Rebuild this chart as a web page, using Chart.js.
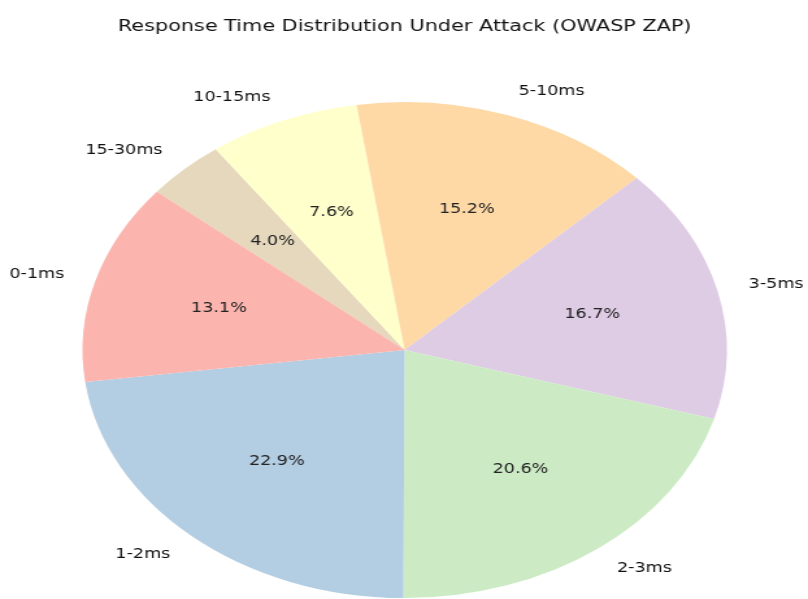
<!DOCTYPE html>
<html>
<head>
<meta charset="utf-8">
<title>Response Time Distribution Under Attack (OWASP ZAP)</title>
<script src="https://cdn.jsdelivr.net/npm/chart.js@4.4.1/dist/chart.umd.min.js"></script>
<style>
  html, body { margin: 0; padding: 0; background: #fff; overflow: hidden; }
  /* the figure is drawn narrow and stretched sideways to give the oval pie */
  #wrap { width: 622px; height: 599px; transform: scaleX(1.299); transform-origin: 0 0; }
</style>
</head>
<body>
<div id="wrap"><canvas id="pieCanvas" width="622" height="599"></canvas></div>
<script>
const categories = ['0-1ms', '1-2ms', '2-3ms', '3-5ms', '5-10ms', '10-15ms', '15-30ms'];
const shares = [13.1, 22.9, 20.6, 16.7, 15.2, 7.6, 4.0];
const colors = ['#fbb4ae', '#b3cde3', '#ccebc5', '#decbe4', '#fed9a6', '#ffffcc', '#e5d8bd'];

// Chart.js goes clockwise, the slices here run counter-clockwise, so feed them reversed
const labelsCw = categories.slice().reverse();
const sharesCw = shares.slice().reverse();
const colorsCw = colors.slice().reverse();

const FONT = "'DejaVu Sans', sans-serif";

const sliceText = {
    id: 'sliceText',
    afterDatasetsDraw(chart) {
        const ctx = chart.ctx;
        const meta = chart.getDatasetMeta(0);
        ctx.save();
        ctx.textBaseline = 'middle';
        meta.data.forEach((arc, i) => {
            const mid = (arc.startAngle + arc.endAngle) / 2;
            const r = arc.outerRadius;
            const c = Math.cos(mid), s = Math.sin(mid);

            ctx.font = '13.5px ' + FONT;
            ctx.fillStyle = '#222';
            ctx.textAlign = 'center';
            ctx.fillText(sharesCw[i].toFixed(1) + '%', arc.x + 0.6 * r * c, arc.y + 0.6 * r * s);

            ctx.fillStyle = '#111';
            ctx.textAlign = c >= 0 ? 'left' : 'right';
            ctx.fillText(labelsCw[i], arc.x + 1.1 * r * c, arc.y + 1.1 * r * s);
        });
        ctx.restore();
    }
};

new Chart(document.getElementById('pieCanvas'), {
    type: 'pie',
    data: {
        labels: labelsCw,
        datasets: [{
            data: sharesCw,
            backgroundColor: colorsCw,
            borderWidth: 0,
            hoverOffset: 0
        }]
    },
    options: {
        responsive: false,
        animation: false,
        rotation: -50.3,
        radius: 248,
        layout: { padding: { top: 0, bottom: 1, left: 63, right: 62 } },
        plugins: {
            legend: { display: false },
            tooltip: { enabled: false },
            title: {
                display: true,
                text: 'Response Time Distribution Under Attack (OWASP ZAP)',
                color: '#111',
                font: { family: FONT, size: 16, weight: 'normal', lineHeight: 1.2 },
                padding: { top: 17, bottom: 66 }
            }
        }
    },
    plugins: [sliceText]
});
</script>
</body>
</html>
